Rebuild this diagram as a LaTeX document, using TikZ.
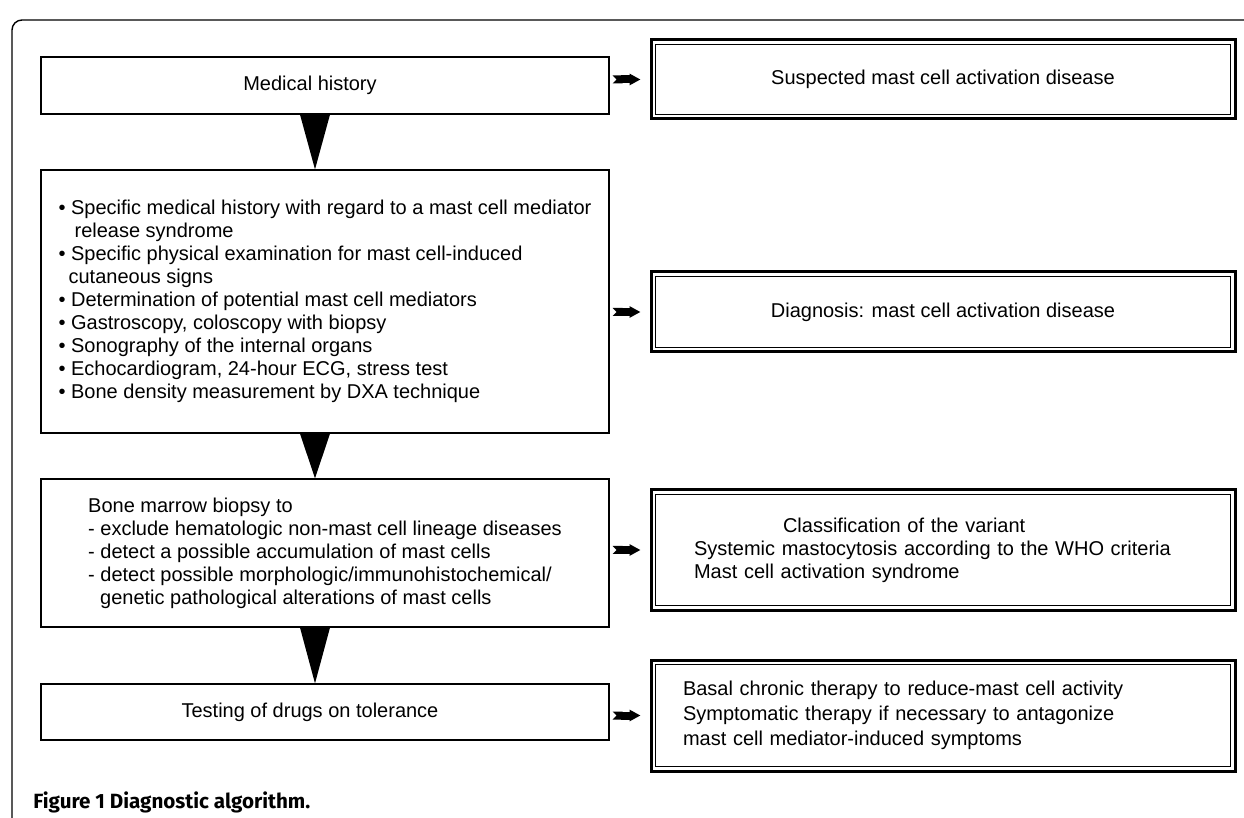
\documentclass[tikz,border=0pt]{standalone}
\usepackage{fontspec}
\setmainfont{Liberation Sans}
\newfontfamily\capfont{Fira Sans}
\usepackage{tikz}
\usetikzlibrary{arrows.meta}
\tikzstyle{stage}=[draw=black,line width=0.6pt,minimum width=284pt,inner sep=0pt,align=left,font=\fontsize{10}{11.5}\selectfont]
\tikzstyle{result}=[draw=black,line width=1.5pt,minimum width=292pt,inner sep=0pt,align=center,font=\fontsize{10}{11.5}\selectfont]
\tikzstyle{chev}=[line width=4pt,{Triangle Cap[reversed]}-{Triangle[length=5.5pt,width=5.5pt]},shorten <=1.5pt,shorten >=4.5pt]

\begin{document}
\begin{tikzpicture}[x=0.5pt,y=-0.5pt]
      \useasboundingbox (0,0) rectangle (1244,818);
      \draw[line width=0.7pt,rounded corners=5pt] (12,818) -- (12,20) -- (1244,20);

      % left column
      \node[stage,minimum height=28.5pt] (m1) at (325,85.5) {\hspace*{-15pt}Medical history};
      \node[stage,minimum height=131.5pt] (m2) at (325,301.5) {%
        • Specific medical history with regard to a mast cell mediator\\
        \hspace*{8pt}release syndrome\\
        • Specific physical examination for mast cell-induced\\
        \hspace*{5pt}cutaneous signs\\
        • Determination of potential mast cell mediators\\
        • Gastroscopy, coloscopy with biopsy\\
        • Sonography of the internal organs\\
        • Echocardiogram, 24-hour ECG, stress test\\
        • Bone density measurement by DXA technique};
      \node[stage,minimum height=74pt] (m3) at (325,553) {%
        Bone marrow biopsy to\\
        - exclude hematologic non-mast cell lineage diseases\\
        - detect a possible accumulation of mast cells\\
        - detect possible morphologic/immunohistochemical/\\
        \hspace*{6pt}genetic pathological alterations of mast cells};
      \node[stage,minimum height=28pt] (m4) at (325,712) {\hspace*{-15pt}Testing of drugs on tolerance};

      % right column
      \node[result,minimum height=39.5pt] (s1) at (943,79.5) {Suspected mast cell activation disease};
      \node[result,minimum height=40pt] (s2) at (943,312) {Diagnosis: mast cell activation disease};
      \node[result,minimum height=60pt,text width=249pt,inner xsep=21.5pt,align=left] (s3) at (943,550) {%
        \hspace*{44.5pt}Classification of the variant\\
        Systemic mastocytosis according to the WHO criteria\\
        Mast cell activation syndrome};
      \node[result,minimum height=55.5pt,text width=260pt,inner xsep=16pt,align=left,
        font=\fontsize{10}{12.5}\selectfont] (s4) at (943,715.5) {%
        Basal chronic therapy to reduce-mast cell activity\\
        Symptomatic therapy if necessary to antagonize\\
        mast cell mediator-induced symptoms};
      \foreach \n in {s1,s2,s3,s4}{
        \draw[line width=0.5pt] ([shift={(2.8pt,2.8pt)}]\n.south west) rectangle ([shift={(-2.8pt,-2.8pt)}]\n.north east);
      }

      \foreach \a/\b in {m1/m2,m2/m3,m3/m4}{
        \fill ([xshift=-12.5pt]\a.south) -- ([xshift=2.5pt]\a.south) -- ([xshift=-5pt]\b.north) -- cycle;
      }
      \foreach \a/\b in {m1/s1,m2/s2,m3/s3,m4/s4}{
        \draw[chev] (\a.east |- \b.west) -- (\b.west);
      }

      \node[anchor=west,inner sep=0pt,font=\capfont\bfseries\fontsize{10.3}{12}\selectfont] (cap) at (33,802) {Figure 1 Diagnostic algorithm.};
\end{tikzpicture}
\end{document}
